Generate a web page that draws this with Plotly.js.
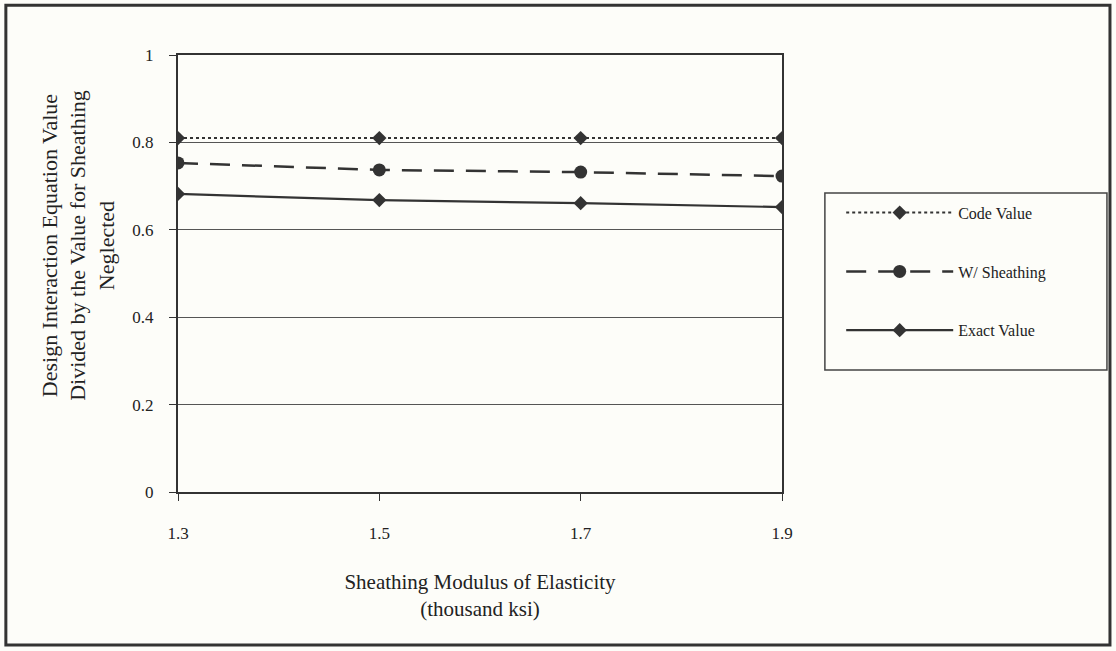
<!DOCTYPE html>
<html><head><meta charset="utf-8">
<script src="https://cdn.plot.ly/plotly-3.0.1.min.js"></script>
<style>html,body{margin:0;padding:0;background:#fdfdf9;}#chart{width:1116px;height:651px;}</style>
</head><body><div id="chart"></div>
<script>
const modulus = [1.3, 1.5, 1.7, 1.9];
const codeValue = [0.81, 0.81, 0.81, 0.81];
const withSheathing = [0.753, 0.737, 0.732, 0.723];
const exactValue = [0.682, 0.668, 0.661, 0.652];
const yTicks = [0, 0.2, 0.4, 0.6, 0.8, 1];
const xTicks = [1.3, 1.5, 1.7, 1.9];
const yTitle = 'Design Interaction Equation Value<br>Divided by the Value for Sheathing<br>Neglected';
const xTitle = 'Sheathing Modulus of Elasticity<br>(thousand ksi)';

const ink = '#333333';
const traces = [
  {x: modulus, y: codeValue, name: 'Code Value', mode: 'lines+markers', legendgroup: 'a',
   line: {color: ink, width: 2, dash: 'dot'}, marker: {symbol: 'diamond', size: 11, color: ink}},
  {x: modulus, y: withSheathing, name: 'W/ Sheathing', mode: 'lines+markers', legendgroup: 'b',
   line: {color: ink, width: 2.5, dash: '20px,12px'}, marker: {symbol: 'circle', size: 13, color: ink}},
  {x: modulus, y: exactValue, name: 'Exact Value', mode: 'lines+markers', legendgroup: 'c',
   line: {color: ink, width: 2.2}, marker: {symbol: 'diamond', size: 11, color: ink}}
];

const font = {family: '"Liberation Serif", "Times New Roman", serif', color: '#222', size: 17};
const layout = {
  width: 1116, height: 651,
  margin: {l: 178, r: 334, t: 55, b: 159},
  paper_bgcolor: '#fdfdf9', plot_bgcolor: '#fdfdf9',
  font: font,
  showlegend: true,
  legend: {x: 1.098, y: 0.678, xanchor: 'left', yanchor: 'top', bgcolor: 'rgba(0,0,0,0)',
           font: {size: 16, family: font.family, color: '#222'}, tracegroupgap: 35, itemwidth: 107},
  xaxis: {range: [1.3, 1.9], tickvals: xTicks, ticktext: xTicks.map(v => v.toFixed(1)),
          showgrid: false, zeroline: false, showline: true, linecolor: ink, linewidth: 2, mirror: true,
          ticks: 'outside', ticklen: 7, tickcolor: ink, tickfont: {size: 17}, ticklabelstandoff: 18,
          title: {text: xTitle, font: {size: 21}, standoff: 32}},
  yaxis: {range: [0, 1], tickvals: yTicks, ticktext: ['0', '0.2', '0.4', '0.6', '0.8', '1'],
          showgrid: true, gridcolor: '#555', gridwidth: 1, zeroline: false,
          showline: true, linecolor: ink, linewidth: 2, mirror: true,
          ticks: 'outside', ticklen: 7, tickcolor: ink, tickfont: {size: 17}, ticklabelstandoff: 12},
  annotations: [
    {text: yTitle, xref: 'paper', yref: 'paper', x: -0.166, y: 0.565, xanchor: 'center', yanchor: 'middle',
     textangle: -90, showarrow: false, font: {size: 22, family: font.family, color: '#222'}}
  ],
  shapes: [
    {type: 'rect', xref: 'paper', yref: 'paper', x0: 1.071, x1: 1.538, y0: 0.279, y1: 0.684,
     line: {color: '#444', width: 1.5}},
    {type: 'rect', xref: 'paper', yref: 'paper', x0: -0.285, x1: 1.543, y0: -0.350, y1: 1.114,
     line: {color: '#333', width: 3}}
  ]
};
Plotly.newPlot('chart', traces, layout, {displayModeBar: false});
</script></body></html>
